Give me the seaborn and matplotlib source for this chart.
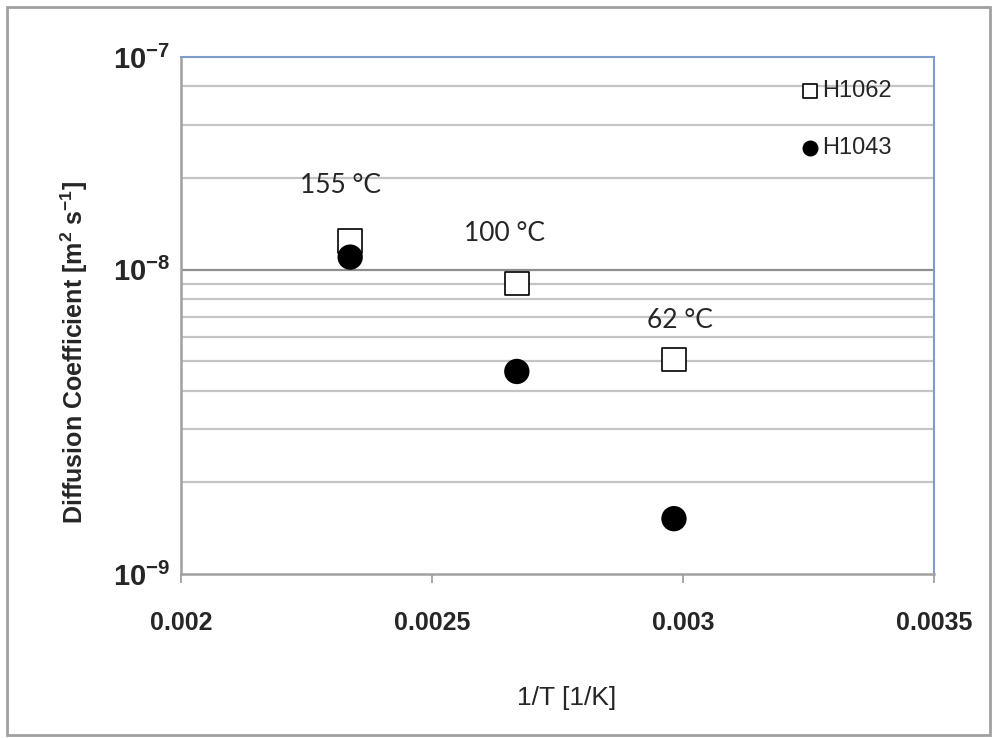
import pandas as pd
import matplotlib.pyplot as plt
import seaborn as sns
from matplotlib.patches import Rectangle

# data
inv_T = [0.002337, 0.002669, 0.002982]
d_h1062 = [1.24e-8, 9.0e-9, 5.07e-9]
d_h1043 = [1.10e-8, 4.63e-9, 1.52e-9]
temp_labels = ['155 °C', '100 °C', '62 °C']
x_ticks = [0.002, 0.0025, 0.003, 0.0035]
x_ticklabels = ['0.002', '0.0025', '0.003', '0.0035']
y_ticks = [1e-9, 1e-8, 5e-8]
y_ticklabels = [r'$\mathbf{10^{-9}}$', r'$\mathbf{10^{-8}}$', r'$\mathbf{10^{-7}}$']

df = pd.DataFrame({
    '1/T': inv_T * 2,
    'D': d_h1062 + d_h1043,
    'sample': ['H1062'] * 3 + ['H1043'] * 3,
})

sns.set_style('white')
plt.rcParams['font.family'] = ['Liberation Sans', 'DejaVu Sans']
plt.rcParams['mathtext.fontset'] = 'custom'
plt.rcParams['mathtext.rm'] = 'Liberation Sans'
plt.rcParams['mathtext.bf'] = 'Liberation Sans:bold'

fig = plt.figure(figsize=(9.92, 7.38), dpi=100)
ax = fig.add_axes([181 / 992, 1 - 574 / 738, 753 / 992, 517 / 738])

sns.scatterplot(data=df, x='1/T', y='D', hue='sample', style='sample',
                markers={'H1062': 's', 'H1043': 'o'},
                palette={'H1062': 'white', 'H1043': 'black'},
                s=290, edgecolor='black', linewidth=1.2,
                legend=False, ax=ax, zorder=3)

ax.set_yscale('log')
ax.set_xlim(0.002, 0.0035)
ax.set_ylim(1e-9, 5e-8)

# horizontal gridlines (major + minor), Excel-like
for v in [2e-9, 3e-9, 4e-9, 5e-9, 6e-9, 7e-9, 8e-9, 9e-9, 2e-8, 3e-8, 4e-8]:
    ax.axhline(v, color='#c4c4c4', lw=1.6, zorder=1)
ax.axhline(1e-8, color='#8e8e8e', lw=1.6, zorder=1)

ax.set_xticks(x_ticks)
ax.set_xticklabels(x_ticklabels, fontsize=18, fontweight='bold')
ax.set_yticks(y_ticks)
ax.set_yticklabels(y_ticklabels, fontsize=21)
ax.yaxis.set_minor_locator(plt.NullLocator())
ax.tick_params(axis='x', direction='out', length=6.5, width=1.3, color='#a0a0a0',
               pad=20, bottom=True)
ax.tick_params(axis='y', length=0, pad=8, left=True)

for side in ['left', 'bottom']:
    ax.spines[side].set_color('#a0a0a0')
    ax.spines[side].set_linewidth(1.8)
for side in ['top', 'right']:
    ax.spines[side].set_visible(True)
    ax.spines[side].set_color('#7f9ccb')
    ax.spines[side].set_linewidth(1.5)

ax.set_xlabel('1/T [1/K]', fontsize=19)
ax.xaxis.set_label_coords((567 - 181) / 753, -(686 - 574) / 517)
ax.set_ylabel('Diffusion Coefficient [m$^{\\mathbf{2}}$ s$^{\\mathbf{-1}}$]',
              fontsize=18, fontweight='bold')
ax.yaxis.set_label_coords(-(181 - 90) / 753, (574 - 352) / 517)

# temperature annotations
offsets = [(-7, 40), (-9, 36), (4, 28)]
for x, y, lab, off in zip(inv_T, d_h1062, temp_labels, offsets):
    ax.annotate(lab, (x, y), xytext=off, textcoords='offset points',
                ha='center', va='center', fontsize=19, family='Lato')

# legend
ax.scatter([], [], marker='s', s=110, facecolor='white', edgecolor='black',
           linewidth=1.2, label='H1062')
ax.scatter([], [], marker='o', s=110, facecolor='black', edgecolor='black',
           label='H1043')
ax.legend(loc='upper left', bbox_to_anchor=(0.792, 0.973), frameon=False,
          fontsize=17, labelspacing=1.47, handletextpad=-0.5, borderaxespad=0)

fig.patches.append(Rectangle((7 / 992, 3 / 738), 983 / 992, 728 / 738,
                             transform=fig.transFigure, fill=False,
                             edgecolor='#a0a0a0', lw=2))

plt.savefig('out.png', dpi=100)
